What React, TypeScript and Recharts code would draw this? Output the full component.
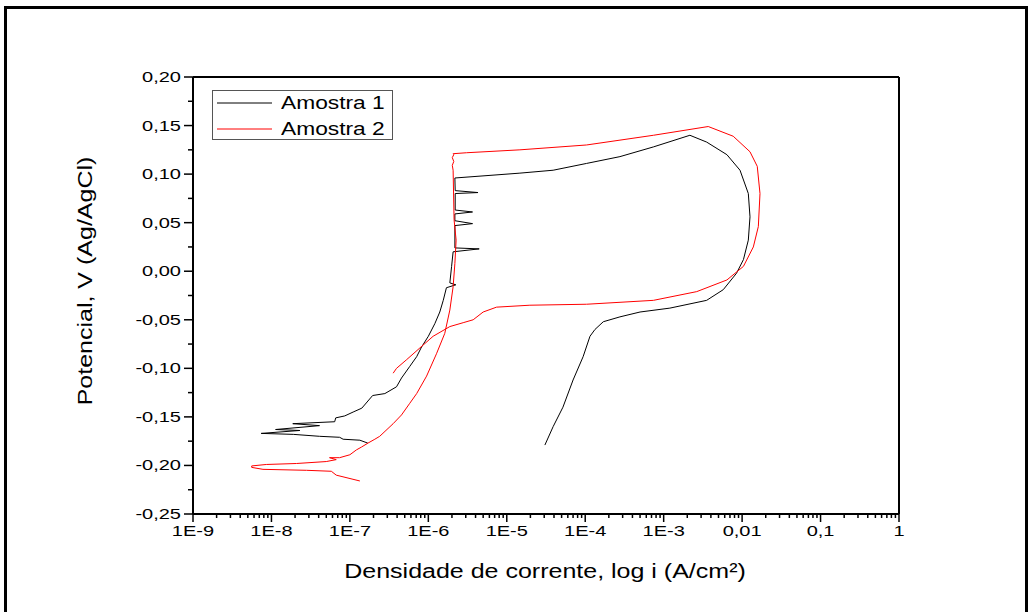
import { LineChart, Line, XAxis, YAxis, ReferenceLine } from "recharts";

// current density (A/cm²) and potential (V vs Ag/AgCl)
const AMOSTRA_1 = [
  { i: 1.69e-7, e: -0.177 }, { i: 1.34e-7, e: -0.174 }, { i: 8.2e-8, e: -0.173 },
  { i: 7.4e-8, e: -0.171 }, { i: 4.1e-8, e: -0.17 }, { i: 1.9e-8, e: -0.168 },
  { i: 7.4e-9, e: -0.167 }, { i: 2.3e-8, e: -0.164 }, { i: 1.13e-8, e: -0.163 },
  { i: 4.1e-8, e: -0.159 }, { i: 1.87e-8, e: -0.157 }, { i: 6.4e-8, e: -0.155 },
  { i: 6.6e-8, e: -0.151 }, { i: 8.6e-8, e: -0.149 }, { i: 1.1e-7, e: -0.145 },
  { i: 1.42e-7, e: -0.141 }, { i: 1.95e-7, e: -0.128 }, { i: 2.79e-7, e: -0.126 },
  { i: 3.93e-7, e: -0.119 }, { i: 4.55e-7, e: -0.11 }, { i: 5.8e-7, e: -0.098 },
  { i: 7.1e-7, e: -0.088 }, { i: 8.2e-7, e: -0.078 }, { i: 1.0e-6, e: -0.067 },
  { i: 1.21e-6, e: -0.054 }, { i: 1.4e-6, e: -0.042 }, { i: 1.55e-6, e: -0.03 },
  { i: 1.7e-6, e: -0.017 }, { i: 2.24e-6, e: -0.014 }, { i: 1.88e-6, e: -0.012 },
  { i: 1.98e-6, e: 0.005 }, { i: 2.07e-6, e: 0.02 }, { i: 4.45e-6, e: 0.023 },
  { i: 2.18e-6, e: 0.024 }, { i: 2.18e-6, e: 0.047 }, { i: 3.66e-6, e: 0.049 },
  { i: 2.18e-6, e: 0.052 }, { i: 2.18e-6, e: 0.059 }, { i: 3.66e-6, e: 0.061 },
  { i: 2.2e-6, e: 0.063 }, { i: 2.2e-6, e: 0.08 }, { i: 4.3e-6, e: 0.081 },
  { i: 2.2e-6, e: 0.083 }, { i: 2.18e-6, e: 0.096 }, { i: 1.47e-5, e: 0.101 },
  { i: 3.9e-5, e: 0.104 }, { i: 1.04e-4, e: 0.111 }, { i: 2.77e-4, e: 0.118 },
  { i: 7.4e-4, e: 0.128 }, { i: 2.16e-3, e: 0.14 }, { i: 3.53e-3, e: 0.133 },
  { i: 6.4e-3, e: 0.12 }, { i: 9.4e-3, e: 0.104 }, { i: 1.2e-2, e: 0.08 },
  { i: 1.26e-2, e: 0.056 }, { i: 1.2e-2, e: 0.032 }, { i: 1.04e-2, e: 0.012 },
  { i: 8.5e-3, e: -0.002 }, { i: 5.75e-3, e: -0.019 }, { i: 3.53e-3, e: -0.03 },
  { i: 1.2e-3, e: -0.038 }, { i: 5.0e-4, e: -0.042 }, { i: 2.77e-4, e: -0.047 },
  { i: 1.7e-4, e: -0.052 }, { i: 1.33e-4, e: -0.06 }, { i: 1.15e-4, e: -0.067 },
  { i: 9.4e-5, e: -0.088 }, { i: 7.0e-5, e: -0.112 }, { i: 5.2e-5, e: -0.14 },
  { i: 3.9e-5, e: -0.16 }, { i: 3.06e-5, e: -0.179 },
];

const AMOSTRA_2 = [
  { i: 1.34e-7, e: -0.216 }, { i: 6.7e-8, e: -0.21 }, { i: 5.8e-8, e: -0.206 },
  { i: 2.8e-8, e: -0.205 }, { i: 7.8e-9, e: -0.204 }, { i: 5.6e-9, e: -0.202 },
  { i: 5.6e-9, e: -0.2005 }, { i: 8.6e-9, e: -0.199 }, { i: 2.08e-8, e: -0.198 },
  { i: 5.0e-8, e: -0.196 }, { i: 6.7e-8, e: -0.194 }, { i: 5.5e-8, e: -0.192 },
  { i: 7.4e-8, e: -0.192 }, { i: 1.0e-7, e: -0.189 }, { i: 1.21e-7, e: -0.184 },
  { i: 1.41e-7, e: -0.181 }, { i: 1.7e-7, e: -0.177 }, { i: 2.08e-7, e: -0.173 },
  { i: 2.4e-7, e: -0.17 }, { i: 3.56e-7, e: -0.157 }, { i: 4.55e-7, e: -0.148 },
  { i: 5.8e-7, e: -0.136 }, { i: 7.1e-7, e: -0.126 }, { i: 9.5e-7, e: -0.108 },
  { i: 1.27e-6, e: -0.085 }, { i: 1.62e-6, e: -0.064 }, { i: 1.88e-6, e: -0.04 },
  { i: 2.07e-6, e: -0.016 }, { i: 2.18e-6, e: 0.008 }, { i: 2.26e-6, e: 0.032 },
  { i: 2.13e-6, e: 0.053 }, { i: 2.07e-6, e: 0.104 }, { i: 2.02e-6, e: 0.109 },
  { i: 2.11e-6, e: 0.113 }, { i: 2.02e-6, e: 0.117 }, { i: 2.11e-6, e: 0.12 },
  { i: 2.07e-6, e: 0.121 }, { i: 3.07e-6, e: 0.122 }, { i: 1.47e-5, e: 0.125 },
  { i: 1.04e-4, e: 0.13 }, { i: 7.4e-4, e: 0.14 }, { i: 3.7e-3, e: 0.149 },
  { i: 7.7e-3, e: 0.139 }, { i: 1.26e-2, e: 0.123 }, { i: 1.56e-2, e: 0.108 },
  { i: 1.69e-2, e: 0.08 }, { i: 1.61e-2, e: 0.046 }, { i: 1.39e-2, e: 0.025 },
  { i: 1.04e-2, e: 0.005 }, { i: 6.4e-3, e: -0.009 }, { i: 2.64e-3, e: -0.021 },
  { i: 7.4e-4, e: -0.03 }, { i: 1.04e-4, e: -0.034 }, { i: 1.97e-5, e: -0.035 },
  { i: 7.4e-6, e: -0.037 }, { i: 5.0e-6, e: -0.042 }, { i: 3.73e-6, e: -0.05 },
  { i: 2.78e-6, e: -0.053 }, { i: 1.88e-6, e: -0.057 }, { i: 1.15e-6, e: -0.067 },
  { i: 7.8e-7, e: -0.079 }, { i: 5.3e-7, e: -0.091 }, { i: 3.93e-7, e: -0.1 },
  { i: 3.56e-7, e: -0.105 },
];

const SERIES_NAMES = ["Amostra 1", "Amostra 2"];
const SERIES_COLORS = ["#000000", "#ff0000"];

const X_TICKS = [1e-9, 1e-8, 1e-7, 1e-6, 1e-5, 1e-4, 1e-3, 1e-2, 1e-1, 1];
const X_TICK_LABELS = ["1E-9", "1E-8", "1E-7", "1E-6", "1E-5", "1E-4", "1E-3", "0,01", "0,1", "1"];
const Y_TICKS = [-0.25, -0.2, -0.15, -0.1, -0.05, 0, 0.05, 0.1, 0.15, 0.2];
const Y_MINOR = [-0.225, -0.175, -0.125, -0.075, -0.025, 0.025, 0.075, 0.125, 0.175];

const X_MINOR = X_TICKS.slice(0, -1).flatMap((d) => [2, 3, 4, 5, 6, 7, 8, 9].map((m) => m * d));

const FONT = "'Liberation Sans', Arial, sans-serif";
const STRETCH = 1.38;

const XTick = (props: any) => {
  const { x, y, payload } = props;
  const idx = X_TICKS.indexOf(payload.value);
  const major = idx >= 0;
  return (
    <g>
      <line x1={x} x2={x} y1={y} y2={y + (major ? 8 : 4)} stroke="#000" strokeWidth={1.5} />
      {major && (
        <text
          transform={`translate(${x},${y + 22}) scale(${STRETCH},1)`}
          textAnchor="middle"
          fontSize={14.5}
          fontFamily={FONT}
          fill="#000"
        >
          {X_TICK_LABELS[idx]}
        </text>
      )}
    </g>
  );
};

const YTick = (props: any) => {
  const { x, y, payload } = props;
  const v = payload.value;
  const major = Y_TICKS.includes(v);
  return (
    <g>
      <line x1={x} x2={x - (major ? 9 : 5)} y1={y} y2={y} stroke="#000" strokeWidth={1.5} />
      {major && (
        <text
          transform={`translate(${x - 12},${y + 5}) scale(${STRETCH},1)`}
          textAnchor="end"
          fontSize={14.5}
          fontFamily={FONT}
          fill="#000"
        >
          {v.toFixed(2).replace(".", ",")}
        </text>
      )}
    </g>
  );
};

export default function App() {
  const series = [AMOSTRA_1, AMOSTRA_2];
  return (
    <div style={{ position: "absolute", left: 0, top: 0, width: 1030, height: 612, background: "#fff", overflow: "hidden" }}>
      <div
        style={{
          position: "absolute",
          left: 4,
          top: 6,
          width: 1024,
          height: 612,
          border: "3px solid #000",
          boxSizing: "border-box",
        }}
      />
      <LineChart width={1030} height={612} margin={{ top: 77, right: 131, bottom: 58, left: 123 }}>
        <XAxis
          type="number"
          dataKey="i"
          scale="log"
          domain={[1e-9, 1]}
          allowDataOverflow
          ticks={[...X_TICKS, ...X_MINOR]}
          interval={0}
          tick={XTick}
          tickSize={0}
          tickMargin={0}
          tickLine={false}
          axisLine={{ stroke: "#000", strokeWidth: 2 }}
          height={40}
        />
        <YAxis
          type="number"
          dataKey="e"
          domain={[-0.25, 0.2]}
          allowDataOverflow
          ticks={[...Y_TICKS, ...Y_MINOR]}
          interval={0}
          tick={YTick}
          tickSize={0}
          tickMargin={0}
          tickLine={false}
          axisLine={{ stroke: "#000", strokeWidth: 2 }}
          width={70}
        />
        <ReferenceLine y={0.2} stroke="#000" strokeWidth={2} />
        <ReferenceLine x={1} stroke="#000" strokeWidth={2} />
        {series.map((d, k) => (
          <Line
            key={SERIES_NAMES[k]}
            data={d}
            dataKey="e"
            name={SERIES_NAMES[k]}
            type="linear"
            stroke={SERIES_COLORS[k]}
            strokeWidth={1}
            dot={false}
            isAnimationActive={false}
          />
        ))}
      </LineChart>
      <div
        style={{
          position: "absolute",
          left: 212,
          top: 90,
          width: 181,
          height: 50,
          border: "1px solid #555",
          background: "#fff",
          boxSizing: "border-box",
        }}
      >
        {SERIES_NAMES.map((name, k) => (
          <div key={name} style={{ position: "absolute", left: 0, top: k === 0 ? 1 : 27, height: 22, width: 180 }}>
            <svg width={60} height={22} style={{ position: "absolute", left: 4, top: 0 }}>
              <line x1={0} x2={55} y1={11} y2={11} stroke={SERIES_COLORS[k]} strokeWidth={1} />
            </svg>
            <span
              style={{
                position: "absolute",
                left: 68,
                top: 0,
                lineHeight: "22px",
                fontSize: 17.5,
                fontFamily: FONT,
                whiteSpace: "nowrap",
                transform: "scaleX(1.3)",
                transformOrigin: "left center",
              }}
            >
              {name}
            </span>
          </div>
        ))}
      </div>
      <div
        style={{
          position: "absolute",
          left: 545,
          top: 571,
          transform: "translate(-50%,-50%) scaleX(1.25)",
          fontSize: 20,
          fontFamily: FONT,
          whiteSpace: "nowrap",
        }}
      >
        Densidade de corrente, log i (A/cm²)
      </div>
      <div
        style={{
          position: "absolute",
          left: 85,
          top: 281,
          transform: "translate(-50%,-50%) rotate(-90deg) scaleX(1.25)",
          fontSize: 20,
          fontFamily: FONT,
          whiteSpace: "nowrap",
        }}
      >
        Potencial, V (Ag/AgCl)
      </div>
    </div>
  );
}
